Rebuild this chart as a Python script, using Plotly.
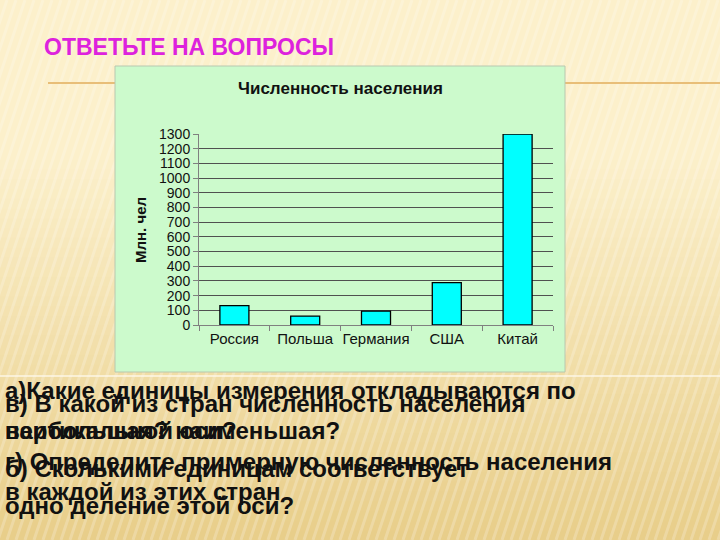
import plotly.graph_objects as go

# ---- data ----
countries = ["Россия", "Польша", "Германия", "США", "Китай"]
population = [132, 61, 95, 288, 1300]
y_ticks = list(range(0, 1301, 100))

chart_title = "Численность населения"
y_title = "Млн. чел"
slide_title = "ОТВЕТЬТЕ НА ВОПРОСЫ"
box1_lines = [
    "а)Какие единицы измерения откладываются по",
    "вертикальной оси?",
    "б) Сколькими единицам соответствует",
    "одно деление этой оси?",
]
box2_lines = [
    "в) В какой из стран численность населения",
    "наибольшая? наименьшая?",
    "г) Определите примерную численность населения",
    "в каждой из этих стран",
]

W, H = 720, 540


def px(x):
    return x / W


def py(y):
    return 1 - y / H


fig = go.Figure()
fig.add_trace(go.Bar(
    x=countries, y=population,
    marker=dict(color="#00FFFF", line=dict(color="#000000", width=1.3)),
    width=0.41,
))

shapes = []
# smooth background gradient (slide decoration)
top_rgb = (252, 240, 203)
bot_rgb = (232, 206, 138)
n = 40
for k in range(n):
    y0 = 150 + k * (390 / n)
    y1 = y0 + 390 / n + 1
    t = k / (n - 1)
    c = tuple(round(a + (b - a) * t) for a, b in zip(top_rgb, bot_rgb))
    shapes.append(dict(type="rect", xref="paper", yref="paper", x0=0, x1=1,
                       y0=py(min(y1, 540)), y1=py(y0),
                       fillcolor="rgb(%d,%d,%d)" % c, line=dict(width=0),
                       layer="below"))
# faint diagonal stripes
for i in range(-200, 760, 9):
    shapes.append(dict(type="line", xref="paper", yref="paper",
                       x0=px(i), y0=py(540), x1=px(i + 180), y1=py(0),
                       line=dict(color="rgba(255,255,255,0.22)", width=3),
                       layer="below"))
# orange horizontal rule
shapes.append(dict(type="line", xref="paper", yref="paper",
                   x0=px(48), x1=1, y0=py(83), y1=py(83),
                   line=dict(color="#E8BE78", width=2), layer="below"))
# light rule
shapes.append(dict(type="line", xref="paper", yref="paper",
                   x0=0, x1=1, y0=py(376), y1=py(376),
                   line=dict(color="rgba(255,250,235,0.9)", width=1.5), layer="below"))
# chart panel
shapes.append(dict(type="rect", xref="paper", yref="paper",
                   x0=px(115), x1=px(565), y0=py(372), y1=py(66),
                   fillcolor="#CCFACC", line=dict(color="#B8C8B0", width=1),
                   layer="below"))

annotations = [
    dict(text="<b>" + slide_title + "</b>", x=px(42), y=py(47), xref="paper", yref="paper",
         xanchor="left", yanchor="middle", showarrow=False,
         font=dict(family="Liberation Sans, Arial", size=23, color="#DD22DD")),
    dict(text="<b>" + chart_title + "</b>", x=px(340), y=py(88), xref="paper", yref="paper",
         xanchor="center", yanchor="middle", showarrow=False,
         font=dict(family="Liberation Sans, Arial", size=17, color="#111111")),
    dict(text="<b>" + y_title + "</b>", x=px(140), y=py(230), xref="paper", yref="paper",
         xanchor="center", yanchor="middle", showarrow=False, textangle=-90,
         font=dict(family="Liberation Sans, Arial", size=15, color="#111111")),
]
box1_y = [390, 430, 468, 505]
box2_y = [403, 430, 461, 491]
for lines, ys in ((box1_lines, box1_y), (box2_lines, box2_y)):
    for t, y in zip(lines, ys):
        annotations.append(dict(
            text="<b>" + t + "</b>", x=px(3), y=py(y), xref="paper", yref="paper",
            xanchor="left", yanchor="middle", showarrow=False,
            font=dict(family="Liberation Sans, Arial", size=24, color="#111111")))

fig.update_layout(
    width=W, height=H,
    margin=dict(l=0, r=0, t=0, b=0, autoexpand=False),
    paper_bgcolor="#FCF0CB",
    plot_bgcolor="#FFFF00",
    showlegend=False,
    shapes=shapes,
    annotations=annotations,
    xaxis=dict(domain=[px(199), px(553)], type="category", automargin=False,
               showline=True, linecolor="#808080", linewidth=1,
               ticks="outside", tickson="boundaries", ticklen=5, tickcolor="#808080",
               showgrid=False, tickangle=0,
               tickfont=dict(family="Liberation Sans, Arial", size=15, color="#111111")),
    yaxis=dict(domain=[py(325), py(134)], range=[0, 1300], automargin=False,
               tickvals=y_ticks, ticktext=[str(v) for v in y_ticks],
               showline=True, linecolor="#808080", linewidth=1,
               ticks="outside", ticklen=5, tickcolor="#808080",
               showgrid=True, gridcolor="#505050", gridwidth=1,
               zeroline=False,
               tickfont=dict(family="Liberation Sans, Arial", size=14, color="#111111")),
)

fig.write_html("out.html", config={"displayModeBar": False},
               post_script="document.body.style.margin='0';document.body.style.padding='0';")
